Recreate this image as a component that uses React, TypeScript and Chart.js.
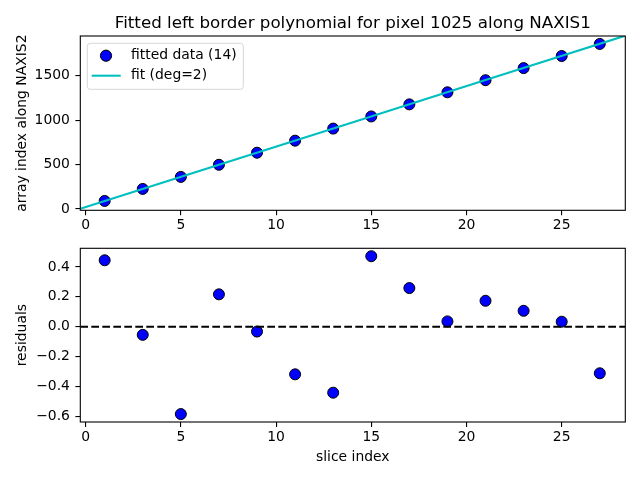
import { useEffect, useRef } from "react";
import { Chart, registerables } from "chart.js";

Chart.register(...registerables);

// slices used in the fit and their measured border position
const sliceIndex = [1, 3, 5, 7, 9, 11, 13, 15, 17, 19, 21, 23, 25, 27];
const fittedData = [
  90.5, 225.7, 361.2, 497.8, 633.6, 769.2, 905.2, 1042.0, 1178.0, 1314.0,
  1450.2, 1586.4, 1722.6, 1858.5,
];
const residuals = [
  0.445, -0.054, -0.584, 0.217, -0.032, -0.318, -0.441, 0.472, 0.259, 0.036,
  0.174, 0.107, 0.034, -0.311,
];

// fitted polynomial sampled along the slice axis
const fitX = [-0.28, 7, 14, 21, 28.34];
const fitY = [3, 499, 975, 1452, 1952];

const xRange = [-0.28, 28.34];
const topYRange = [-15, 1948];
const bottomYRange = [-0.637, 0.525];

const xTicks = [0, 5, 10, 15, 20, 25];
const topYTicks = [0, 500, 1000, 1500];
const bottomYTicks = [-0.6, -0.4, -0.2, 0.0, 0.2, 0.4];

const chartTitle = "Fitted left border polynomial for pixel 1025 along NAXIS1";

const FONT = "'DejaVu Sans', sans-serif";
const tickFont = { family: FONT, size: 13.9, lineHeight: 1.2 };

const framePlugin = {
  id: "frame",
  afterDatasetsDraw(chart: any) {
    const { ctx, chartArea: a } = chart;
    ctx.save();
    ctx.strokeStyle = "#000";
    ctx.lineWidth = 1.1;
    ctx.strokeRect(a.left, a.top, a.right - a.left, a.bottom - a.top);
    ctx.restore();
  },
};

// title centred over the axes, like matplotlib does it
const axesTitlePlugin = {
  id: "axesTitle",
  afterDraw(chart: any) {
    const { ctx, chartArea: a } = chart;
    ctx.save();
    ctx.fillStyle = "#000";
    ctx.font = `16.7px ${FONT}`;
    ctx.textAlign = "center";
    ctx.textBaseline = "alphabetic";
    ctx.fillText(chartTitle, (a.left + a.right) / 2, a.top - 8.3);
    ctx.restore();
  },
};

const legendPlugin = {
  id: "mplLegend",
  afterDraw(chart: any) {
    const { ctx, chartArea: a } = chart;
    const x = a.left + 7;
    const y = a.top + 7.3;
    const w = 156;
    const h = 46;
    ctx.save();
    ctx.globalAlpha = 0.8;
    ctx.fillStyle = "#fff";
    ctx.strokeStyle = "#cccccc";
    ctx.lineWidth = 1;
    ctx.beginPath();
    ctx.roundRect(x, y, w, h, 3);
    ctx.fill();
    ctx.stroke();
    ctx.globalAlpha = 1;

    // scatter entry
    ctx.beginPath();
    ctx.arc(x + 18.7, y + 12.4, 5.6, 0, Math.PI * 2);
    ctx.fillStyle = "#0000ff";
    ctx.fill();
    ctx.strokeStyle = "#000";
    ctx.lineWidth = 1;
    ctx.stroke();

    // line entry
    ctx.beginPath();
    ctx.moveTo(x + 4.4, y + 32.4);
    ctx.lineTo(x + 33.4, y + 32.4);
    ctx.strokeStyle = "#00bfbf";
    ctx.lineWidth = 2.08;
    ctx.stroke();

    ctx.fillStyle = "#000";
    ctx.font = `13.9px ${FONT}`;
    ctx.textBaseline = "middle";
    ctx.textAlign = "left";
    const labels = chart.data.datasets.map((d: any) => d.label);
    ctx.fillText(labels[1], x + 43.7, y + 12.4);
    ctx.fillText(labels[0], x + 43.7, y + 32.4);
    ctx.restore();
  },
};

function xScale(height: number, title?: string) {
  return {
    type: "linear",
    min: xRange[0],
    max: xRange[1],
    afterBuildTicks: (s: any) => {
      s.ticks = xTicks.map((v) => ({ value: v }));
    },
    afterFit: (s: any) => {
      s.height = height;
      s.paddingLeft = 0;
      s.paddingRight = 0;
    },
    ticks: { color: "#000", font: tickFont, padding: 2, maxRotation: 0 },
    grid: {
      drawOnChartArea: false,
      drawTicks: true,
      tickLength: 4.9,
      color: "#000",
      lineWidth: 1.1,
    },
    border: { display: false },
    title: {
      display: !!title,
      text: title ?? "",
      color: "#000",
      font: tickFont,
      padding: { top: 0, bottom: 13.9 },
    },
  };
}

function yScale(range: number[], ticks: number[], title: string, fmt: (v: number) => string) {
  return {
    type: "linear",
    min: range[0],
    max: range[1],
    afterBuildTicks: (s: any) => {
      s.ticks = ticks.map((v) => ({ value: v }));
    },
    afterFit: (s: any) => {
      s.width = 80.3;
      s.paddingTop = 0;
      s.paddingBottom = 0;
    },
    ticks: {
      color: "#000",
      font: tickFont,
      padding: 5.5,
      callback: (v: any) => fmt(Number(v)),
    },
    grid: {
      drawOnChartArea: false,
      drawTicks: true,
      tickLength: 4.9,
      color: "#000",
      lineWidth: 1.1,
    },
    border: { display: false },
    title: {
      display: true,
      text: title,
      color: "#000",
      font: tickFont,
      padding: { top: 14, bottom: 0 },
    },
  };
}

const fmtResidual = (v: number) => {
  const s = Math.abs(v).toFixed(1);
  return v < -1e-9 ? "\u2212" + s : s;
};

export default function App() {
  const topRef = useRef<HTMLCanvasElement>(null);
  const bottomRef = useRef<HTMLCanvasElement>(null);

  useEffect(() => {
    if (!topRef.current || !bottomRef.current) return;

    const top = new Chart(topRef.current, {
      type: "scatter",
      data: {
        datasets: [
          {
            label: "fit (deg=2)",
            data: fitX.map((x, i) => ({ x, y: fitY[i] })),
            showLine: true,
            borderColor: "#00bfbf",
            borderWidth: 2.08,
            pointRadius: 0,
            fill: false,
          },
          {
            label: `fitted data (${sliceIndex.length})`,
            data: sliceIndex.map((x, i) => ({ x, y: fittedData[i] })),
            backgroundColor: "#0000ff",
            borderColor: "#000",
            borderWidth: 1,
            pointRadius: 5.5,
          },
        ],
      },
      options: {
        animation: false,
        responsive: false,
        devicePixelRatio: 1,
        layout: { padding: { left: 0, right: 14.7, top: 36, bottom: 0 } },
        plugins: {
          legend: { display: false },
          tooltip: { enabled: false },
        },
        scales: {
          x: xScale(29.7) as any,
          y: yScale(topYRange, topYTicks, "array index along NAXIS2", (v) => String(v)) as any,
        },
      },
      plugins: [framePlugin, axesTitlePlugin, legendPlugin],
    });

    const bottom = new Chart(bottomRef.current, {
      type: "scatter",
      data: {
        datasets: [
          {
            label: "zero",
            data: xRange.map((x) => ({ x, y: 0 })),
            showLine: true,
            borderColor: "#000",
            borderWidth: 2.08,
            borderDash: [7.7, 3.3],
            pointRadius: 0,
            fill: false,
          },
          {
            label: "residuals",
            data: sliceIndex.map((x, i) => ({ x, y: residuals[i] })),
            backgroundColor: "#0000ff",
            borderColor: "#000",
            borderWidth: 1,
            pointRadius: 5.5,
          },
        ],
      },
      options: {
        animation: false,
        responsive: false,
        devicePixelRatio: 1,
        layout: { padding: { left: 0, right: 14.7, top: 8.3, bottom: 0 } },
        plugins: {
          legend: { display: false },
          tooltip: { enabled: false },
        },
        scales: {
          x: xScale(58, "slice index") as any,
          y: yScale(bottomYRange, bottomYTicks, "residuals", fmtResidual) as any,
        },
      },
      plugins: [framePlugin],
    });

    return () => {
      top.destroy();
      bottom.destroy();
    };
  }, []);

  return (
    <div
      style={{
        position: "fixed",
        left: 0,
        top: 0,
        width: 640,
        height: 480,
        background: "#fff",
      }}
    >
      <canvas ref={topRef} width={640} height={240} style={{ display: "block" }} />
      <canvas ref={bottomRef} width={640} height={240} style={{ display: "block" }} />
    </div>
  );
}
